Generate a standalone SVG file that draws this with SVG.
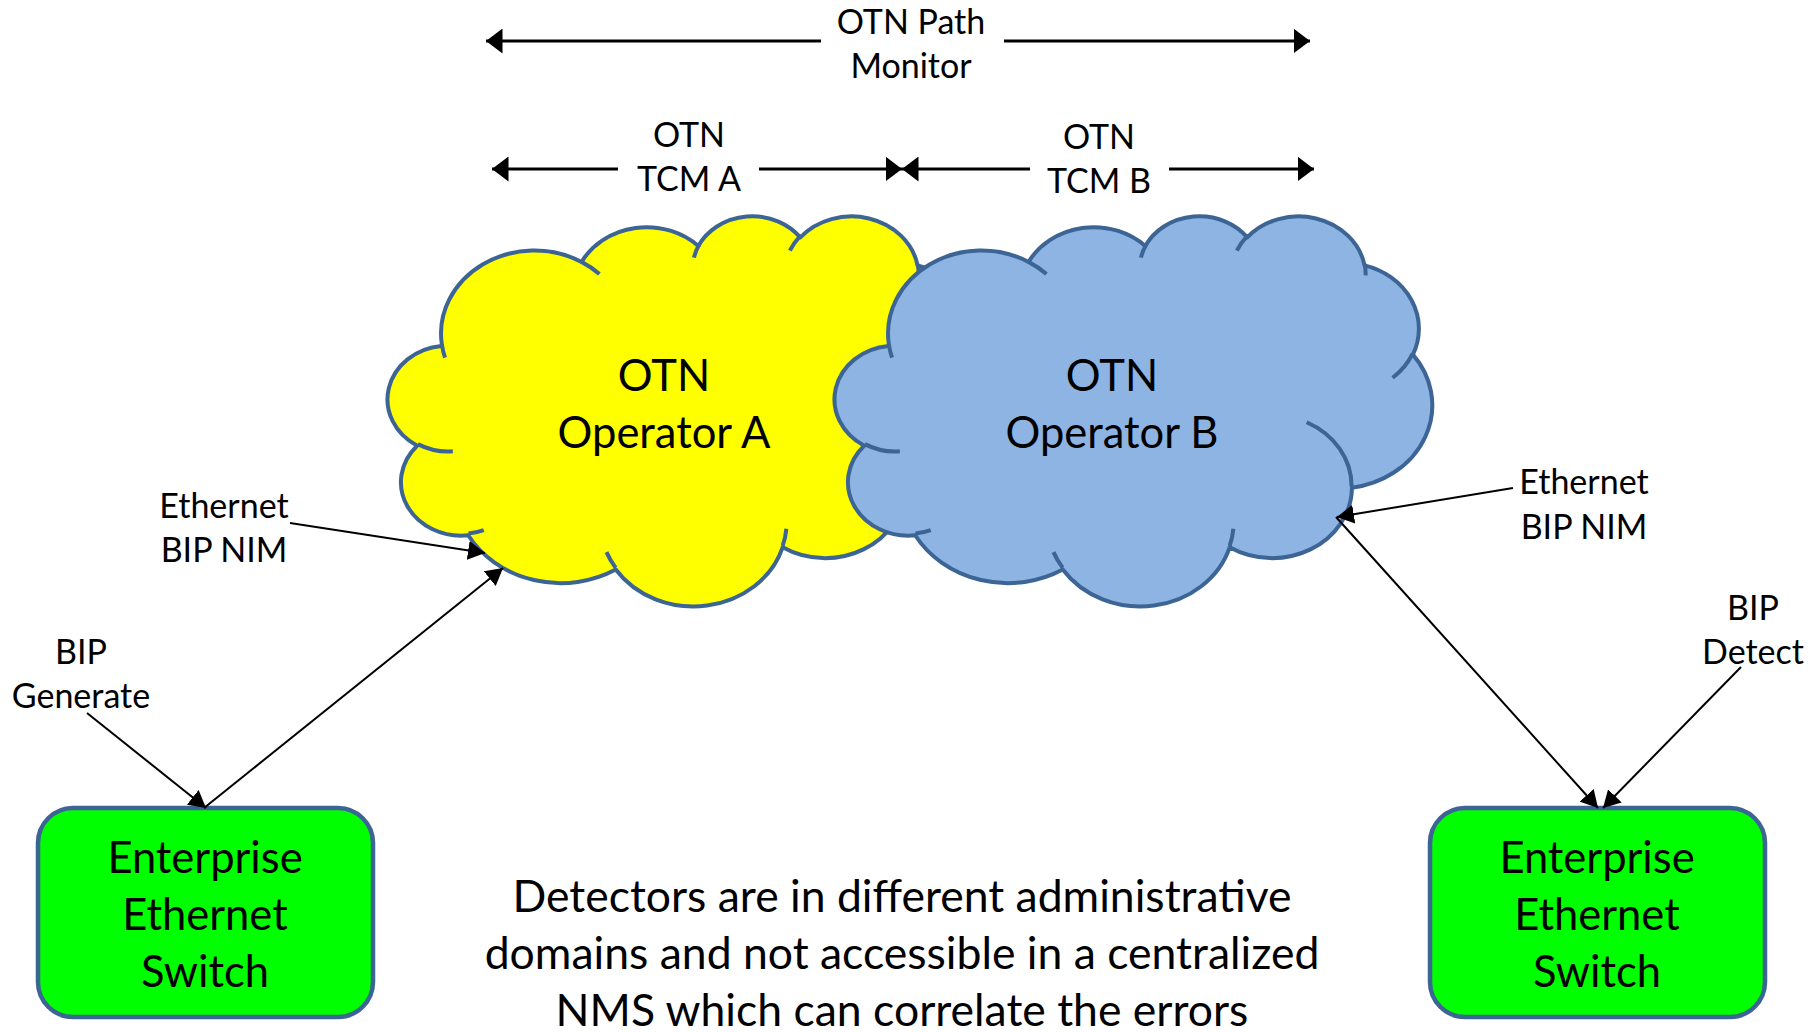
<svg xmlns="http://www.w3.org/2000/svg" width="1818" height="1032" viewBox="0 0 1818 1032">
<style>
  text { font-family: Lato, "Open Sans", "Liberation Sans", sans-serif; fill: #000; text-anchor: middle; }
  .big { font-size: 43.5px; }
  .note { font-size: 44.5px; }
  .small { font-size: 34px; }
  .cloud-outline { stroke: #3C6494; stroke-width: 4; stroke-linejoin: round; }
  .cloud-inner { fill: none; stroke: #3C6494; stroke-width: 4; }
  .box { fill: #00FF00; stroke: #3C6494; stroke-width: 4.5; }
  .thick { stroke: #000; stroke-width: 2.8; fill: none; }
  .thin { stroke: #000; stroke-width: 2; fill: none; }
</style>
<defs>
  <path id="cloudShape" vector-effect="non-scaling-stroke" d="M 3900 14370 A 6753 9190 0 0 1 14006.5 5203.3 A 5333 7267 0 0 1 22457.7 3434.9 A 4365 5945 0 0 1 29835.6 2483.6 A 4857 6595 0 0 1 38320 5580.1 A 5333 7273 0 0 1 41820.4 15464.2 A 6775 9220 0 0 1 37405.4 30206 A 5785 7867 0 0 1 28556.7 36815.9 A 6752 9215 0 0 1 16481.4 39267.7 A 7720 10543 0 0 1 5804.3 35473.4 A 4360 5918 0 0 1 2112.8 25552 A 4345 5945 0 0 1 3863.4 14509 Z"/>
  <path id="cloudInner" vector-effect="non-scaling-stroke" d="M 4693 26177 A 4345 5945 0 0 1 2159.1 25379.4 M 6928 34899 A 4360 5918 0 0 1 5819.6 35280.4 M 16478 39090 A 6752 9215 0 0 1 15810 37349.3 M 28827 34751 A 6752 9215 0 0 1 28560.4 36660.1 M 34129 22954 A 5785 7867 0 0 1 37380.7 30089.8 M 41798 15354 A 5333 7273 0 0 1 40349.8 18030.1 M 38324 5426 A 4857 6595 0 0 1 38400.4 6689.6 M 29078 3952 A 4857 6595 0 0 1 29821.1 2337.2 M 22141 4720 A 4365 5945 0 0 1 22499.8 3331.3 M 14000 5192 A 6753 9190 0 0 1 15300.1 6541.4 M 4127 15789 A 6753 9190 0 0 1 3900.2 14370.7"/>
  <marker id="headBig" viewBox="0 0 10 10" preserveAspectRatio="none" refX="10" refY="5" markerUnits="userSpaceOnUse" markerWidth="16.5" markerHeight="25" orient="auto-start-reverse">
    <path d="M0,0 L10,5 L0,10 z" fill="#000"/>
  </marker>
  <marker id="headSmall" viewBox="0 0 10 10" preserveAspectRatio="none" refX="10" refY="5" markerUnits="userSpaceOnUse" markerWidth="17" markerHeight="19" orient="auto-start-reverse">
    <path d="M0,0 L10,5 L0,10 z" fill="#000"/>
  </marker>
</defs>

<g id="node-cloud-a">
  <g transform="translate(388,215) scale(0.0138194,0.0090278)">
    <use href="#cloudShape" class="cloud-outline" fill="#FFFF00"/>
    <use href="#cloudInner" class="cloud-inner"/>
  </g>
  <text class="big" x="664" y="391">OTN</text>
  <text class="big" x="664" y="448">Operator A</text>
</g>

<g id="node-cloud-b">
  <g transform="translate(835,215) scale(0.0138194,0.0090278)">
    <use href="#cloudShape" class="cloud-outline" fill="#8EB4E3"/>
    <use href="#cloudInner" class="cloud-inner"/>
  </g>
  <text class="big" x="1112" y="391">OTN</text>
  <text class="big" x="1112" y="448">Operator B</text>
</g>

<g id="node-switch-left">
  <rect class="box" x="38" y="808" width="335" height="209" rx="35" ry="35"/>
  <text class="big" x="205" y="873">Enterprise</text>
  <text class="big" x="205" y="930">Ethernet</text>
  <text class="big" x="205" y="987">Switch</text>
</g>

<g id="node-switch-right">
  <rect class="box" x="1430" y="808" width="335" height="209" rx="35" ry="35"/>
  <text class="big" x="1597" y="873">Enterprise</text>
  <text class="big" x="1597" y="930">Ethernet</text>
  <text class="big" x="1597" y="987">Switch</text>
</g>

<g id="connectors">
  <line class="thick" x1="486" y1="41" x2="821" y2="41" marker-start="url(#headBig)"/>
  <line class="thick" x1="1004" y1="41" x2="1310" y2="41" marker-end="url(#headBig)"/>
  <line class="thick" x1="492" y1="169" x2="618" y2="169" marker-start="url(#headBig)"/>
  <line class="thick" x1="759" y1="169" x2="902" y2="169" marker-end="url(#headBig)"/>
  <line class="thick" x1="902" y1="169" x2="1030" y2="169" marker-start="url(#headBig)"/>
  <line class="thick" x1="1169" y1="169" x2="1314" y2="169" marker-end="url(#headBig)"/>
  <line class="thin" x1="290" y1="523" x2="485" y2="553" marker-end="url(#headSmall)"/>
  <line class="thin" x1="204" y1="808" x2="503" y2="568" marker-end="url(#headSmall)"/>
  <line class="thin" x1="87" y1="713" x2="206" y2="808" marker-end="url(#headSmall)"/>
  <line class="thin" x1="1513" y1="488" x2="1337" y2="517" marker-end="url(#headSmall)"/>
  <line class="thin" x1="1336" y1="517" x2="1598" y2="808" marker-end="url(#headSmall)"/>
  <line class="thin" x1="1741" y1="667" x2="1603" y2="808" marker-end="url(#headSmall)"/>
</g>

<g id="label-path-monitor">
  <text class="small" x="911" y="34">OTN Path</text>
  <text class="small" x="911" y="78">Monitor</text>
</g>
<g id="label-tcm-a">
  <text class="small" x="689" y="147">OTN</text>
  <text class="small" x="689" y="191">TCM A</text>
</g>
<g id="label-tcm-b">
  <text class="small" x="1099" y="149">OTN</text>
  <text class="small" x="1099" y="193">TCM B</text>
</g>
<g id="label-nim-left">
  <text class="small" x="224" y="518">Ethernet</text>
  <text class="small" x="224" y="562">BIP NIM</text>
</g>
<g id="label-bip-generate">
  <text class="small" x="81" y="664">BIP</text>
  <text class="small" x="81" y="708">Generate</text>
</g>
<g id="label-nim-right">
  <text class="small" x="1584" y="494">Ethernet</text>
  <text class="small" x="1584" y="539">BIP NIM</text>
</g>
<g id="label-bip-detect">
  <text class="small" x="1753" y="620">BIP</text>
  <text class="small" x="1753" y="664">Detect</text>
</g>
<g id="note">
  <text class="note" x="902" y="912">Detectors are in different administrative</text>
  <text class="note" x="902" y="969">domains and not accessible in a centralized</text>
  <text class="note" x="902" y="1026">NMS which can correlate the errors</text>
</g>
</svg>
